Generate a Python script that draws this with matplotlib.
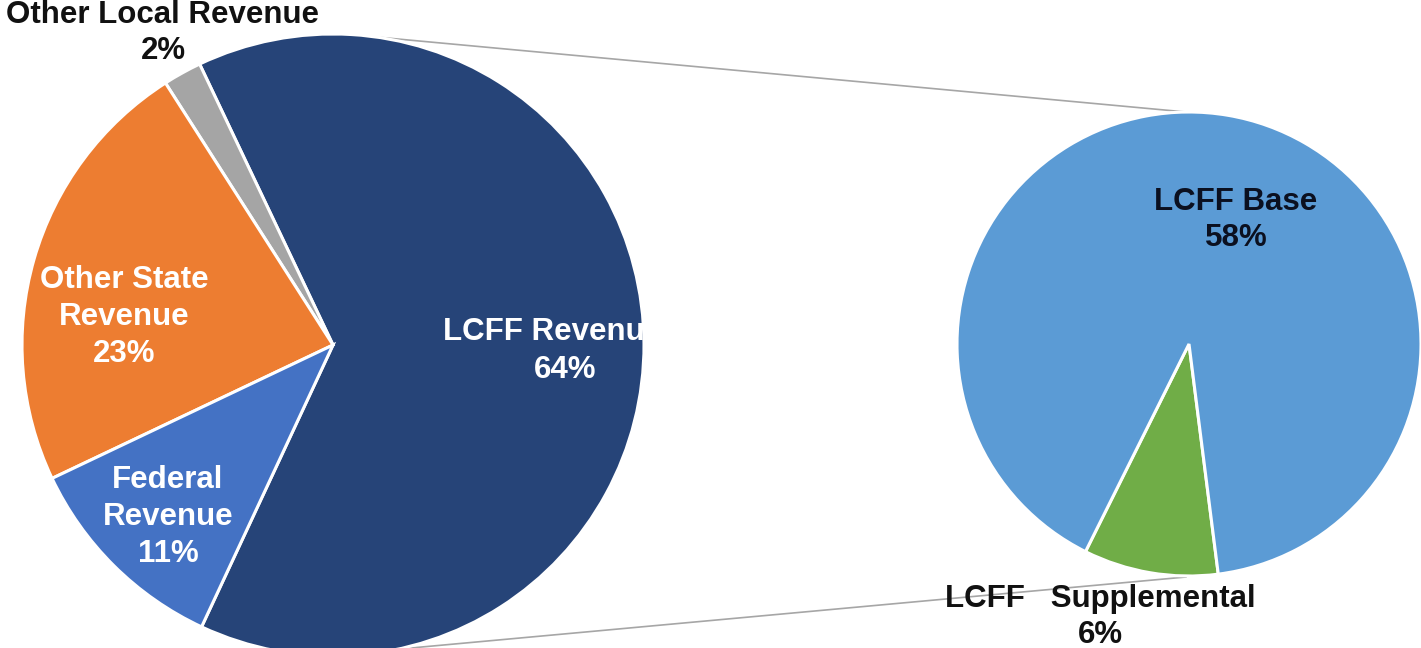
import numpy as np
import matplotlib
matplotlib.use("Agg")
import matplotlib.pyplot as plt
from matplotlib.patches import Rectangle

# ---- data ----
main_labels = ["LCFF Revenue", "Other Local Revenue", "Other State Revenue", "Federal Revenue"]
main_values = [64, 2, 23, 11]
main_colors = ["#264478", "#A5A5A5", "#ED7D31", "#4472C4"]

sub_labels = ["LCFF   Supplemental", "LCFF Base"]
sub_values = [6, 58]
sub_colors = ["#70AD47", "#5B9BD5"]

W, H = 1421, 648
fig = plt.figure(figsize=(W / 100, H / 100), dpi=100)
ax = fig.add_axes([0, 0, 1, 1])

def Y(py):
    return H - py

# geometry (pixel space)
c1 = (333, Y(345)); r1 = 311
c2 = (1189, Y(344)); r2 = 232

wp = dict(edgecolor="white", linewidth=2.2)
ax.pie(main_values, colors=main_colors, startangle=-115, counterclock=True,
       center=c1, radius=r1, wedgeprops=wp, frame=True)
ax.pie(sub_values, colors=sub_colors, startangle=243.5, counterclock=True,
       center=c2, radius=r2, wedgeprops=wp, frame=True)

# connector lines
a_top, a_bot = np.deg2rad(82), np.deg2rad(-78)
ax.plot([c1[0] + r1 * np.cos(a_top), c2[0] - 3], [c1[1] + r1 * np.sin(a_top), c2[1] + r2],
        color="#a6a6a6", lw=1.2, zorder=0)
ax.plot([c1[0] + r1 * np.cos(a_bot), c2[0] - 3], [c1[1] + r1 * np.sin(a_bot), c2[1] - r2 - 1],
        color="#a6a6a6", lw=1.2, zorder=0)

font = dict(family="Liberation Sans", fontweight="bold", fontsize=22.5,
            ha="center", va="center", linespacing=1.3)

def pct(v, tot):
    return f"{round(v / tot * 100)}%"

tot = sum(main_values)
# main labels
ax.text(163, Y(33), f"{main_labels[1]}\n{pct(main_values[1], tot)}", color="#111111", **font)
ax.text(124, Y(317), "Other State\nRevenue\n" + pct(main_values[2], tot), color="white", **font)
ax.text(168, Y(517), "Federal\nRevenue\n" + pct(main_values[3], tot), color="white", **font)
clip = Rectangle((0, 0), 648, H, transform=ax.transData, visible=False)
ax.add_patch(clip)
t1 = ax.text(553, Y(332), main_labels[0], color="white", **font)
t1.set_clip_path(clip)
ax.text(565, Y(370), pct(main_values[0], tot), color="white", **font)

# sub labels
ax.text(1236, Y(220), f"{sub_labels[1]}\n{pct(sub_values[1], tot)}", color="#0b1020", **font)
ax.text(1100, Y(617), f"{sub_labels[0]}\n{pct(sub_values[0], tot)}", color="#111111", **font)

ax.set_xlim(0, W)
ax.set_ylim(0, H)
ax.set_aspect("auto")
ax.axis("off")

fig.savefig("out.png", dpi=100, facecolor="white")
